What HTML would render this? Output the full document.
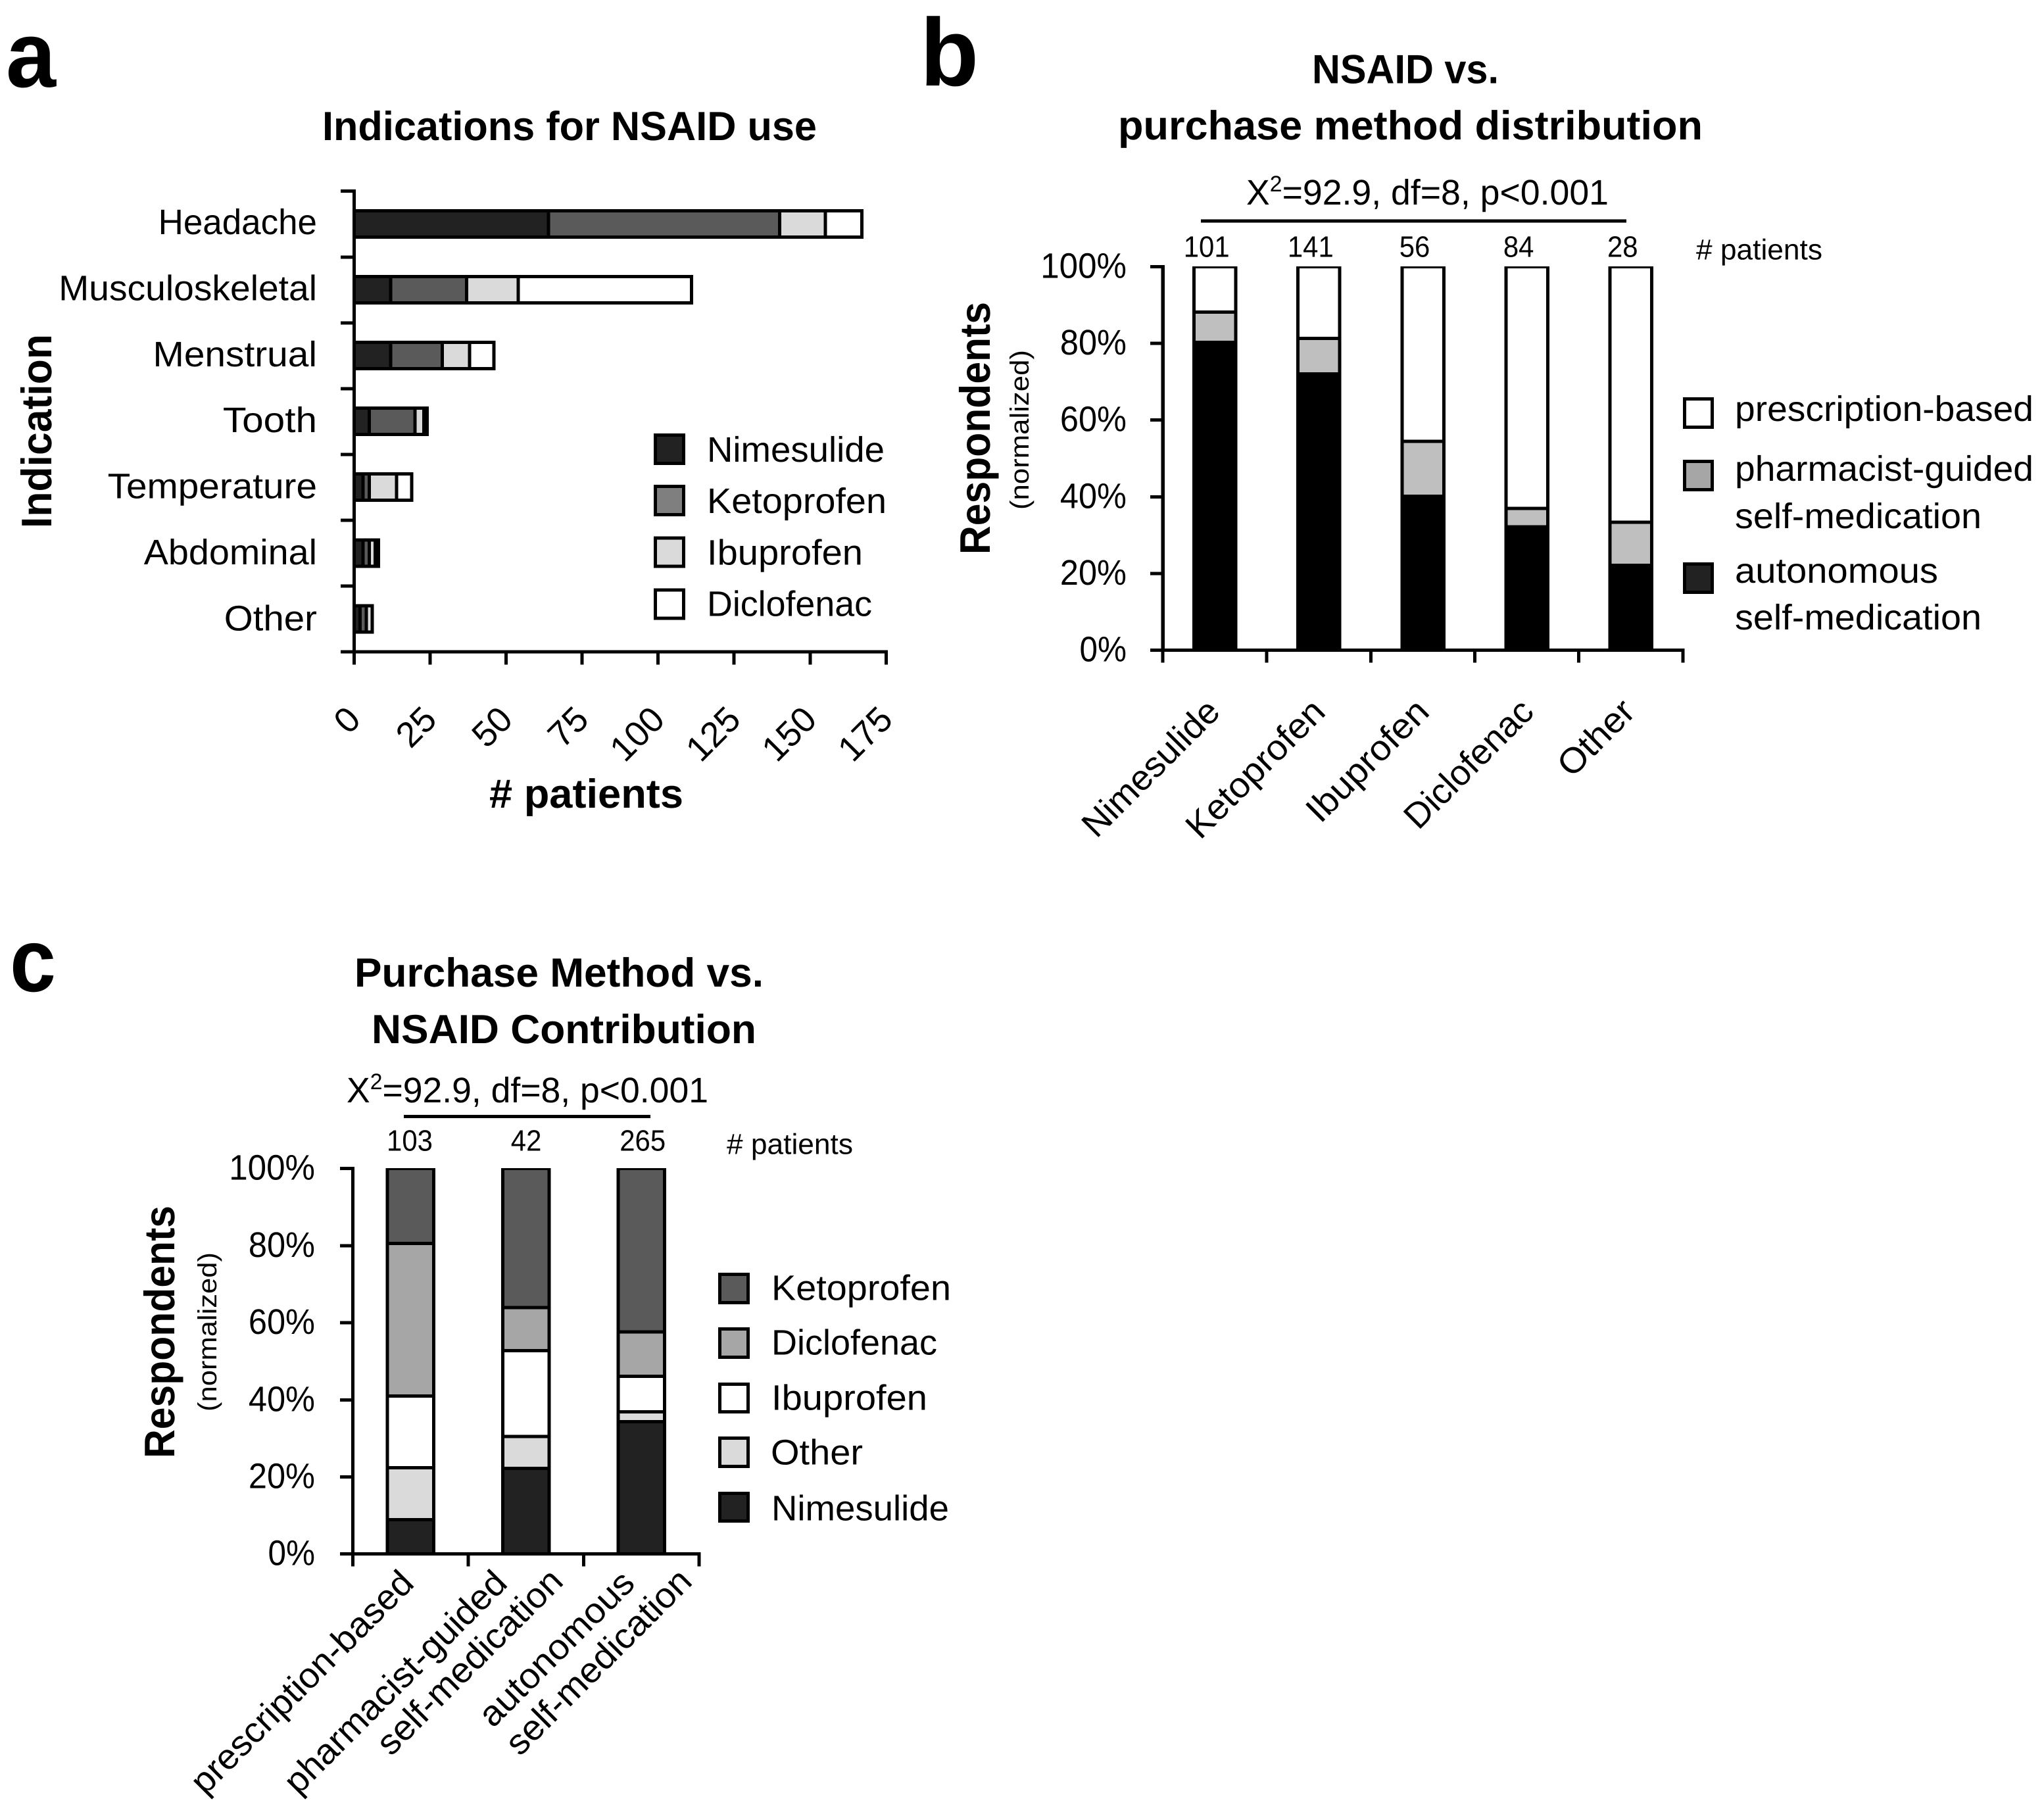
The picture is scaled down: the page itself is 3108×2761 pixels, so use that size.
<!DOCTYPE html>
<html lang="en">
<head>
<meta charset="utf-8">
<title>NSAID use charts</title>
<style>
  html, body { margin: 0; padding: 0; background: #fff; }
  svg { display: block; }
  text { font-family: "Liberation Sans", sans-serif; fill: #000; text-rendering: geometricPrecision; }
  .bold { font-weight: bold; }
  rect, line { shape-rendering: crispEdges; }
</style>
</head>
<body>
<svg id="figure" xmlns="http://www.w3.org/2000/svg" width="3108" height="2761" viewBox="0 0 3108 2761">
  <defs>
    <clipPath id="clip-b"><rect x="1700" y="405" width="900" height="600"/></clipPath>
    <clipPath id="clip-c"><rect x="500" y="1776" width="600" height="600"/></clipPath>
  </defs>
  <rect x="0" y="0" width="3108" height="2761" fill="#fff"/>

  <!-- Panel a -->
  <g id="panel-a">
    <text class="bold" x="9" y="132" font-size="142" textLength="76" lengthAdjust="spacingAndGlyphs">a</text>
    <text class="bold" x="490" y="213" font-size="62" textLength="752" lengthAdjust="spacingAndGlyphs">Indications for NSAID use</text>
    <text class="bold" transform="translate(78,803) rotate(-90)" font-size="65" textLength="295" lengthAdjust="spacingAndGlyphs">Indication</text>
    <text class="bold" x="744" y="1228" font-size="62" textLength="295" lengthAdjust="spacingAndGlyphs"># patients</text>
    <g id="marks-a"></g>
    <g>
      <rect x="996.5" y="661.5" width="43" height="43" fill="#222" stroke="#000" stroke-width="5"/>
      <text x="1075" y="702" font-size="54" textLength="270" lengthAdjust="spacingAndGlyphs">Nimesulide</text>
      <rect x="996.5" y="739.5" width="43" height="43" fill="#7f7f7f" stroke="#000" stroke-width="5"/>
      <text x="1075" y="780" font-size="54" textLength="273" lengthAdjust="spacingAndGlyphs">Ketoprofen</text>
      <rect x="996.5" y="818" width="43" height="43" fill="#dadada" stroke="#000" stroke-width="5"/>
      <text x="1075" y="858.5" font-size="54" textLength="237" lengthAdjust="spacingAndGlyphs">Ibuprofen</text>
      <rect x="996.5" y="897" width="43" height="43" fill="#fff" stroke="#000" stroke-width="5"/>
      <text x="1075" y="936.5" font-size="54" textLength="251" lengthAdjust="spacingAndGlyphs">Diclofenac</text>
    </g>
  </g>

  <!-- Panel b -->
  <g id="panel-b">
    <text class="bold" x="1399" y="130" font-size="146">b</text>
    <text class="bold" x="1995" y="126.5" font-size="62" textLength="284" lengthAdjust="spacingAndGlyphs">NSAID vs.</text>
    <text class="bold" x="1700" y="212" font-size="62" textLength="889" lengthAdjust="spacingAndGlyphs">purchase method distribution</text>
    <text x="1895" y="311" font-size="54" textLength="551" lengthAdjust="spacingAndGlyphs">X<tspan dy="-20" font-size="34">2</tspan><tspan dy="20">=92.9, df=8, p&lt;0.001</tspan></text>
    <line x1="1826" y1="336" x2="2473" y2="336" stroke="#000" stroke-width="5"/>
    <text x="2579" y="394.5" font-size="44" textLength="192" lengthAdjust="spacingAndGlyphs"># patients</text>
    <text class="bold" transform="translate(1505,843) rotate(-90)" font-size="65" textLength="384" lengthAdjust="spacingAndGlyphs">Respondents</text>
    <text transform="translate(1564,775) rotate(-90)" font-size="40" textLength="243" lengthAdjust="spacingAndGlyphs">(normalized)</text>
    <g id="marks-b"></g>
    <text transform="translate(1858,1085) rotate(-45)" text-anchor="end" font-size="54" textLength="270" lengthAdjust="spacingAndGlyphs">Nimesulide</text>
    <text transform="translate(2018,1085) rotate(-45)" text-anchor="end" font-size="54" textLength="273" lengthAdjust="spacingAndGlyphs">Ketoprofen</text>
    <text transform="translate(2176,1085) rotate(-45)" text-anchor="end" font-size="54" textLength="238" lengthAdjust="spacingAndGlyphs">Ibuprofen</text>
    <text transform="translate(2335,1085) rotate(-45)" text-anchor="end" font-size="54" textLength="252" lengthAdjust="spacingAndGlyphs">Diclofenac</text>
    <text transform="translate(2489,1085) rotate(-45)" text-anchor="end" font-size="54" textLength="140" lengthAdjust="spacingAndGlyphs">Other</text>
    <g>
      <rect x="2561.5" y="606.5" width="42" height="43" fill="#fff" stroke="#000" stroke-width="5"/>
      <text x="2638" y="640" font-size="54" textLength="454" lengthAdjust="spacingAndGlyphs">prescription-based</text>
      <rect x="2561.5" y="701.5" width="42" height="43" fill="#a6a6a6" stroke="#000" stroke-width="5"/>
      <text x="2638" y="731" font-size="54" textLength="454" lengthAdjust="spacingAndGlyphs">pharmacist-guided</text>
      <text x="2638" y="803" font-size="54" textLength="375" lengthAdjust="spacingAndGlyphs">self-medication</text>
      <rect x="2561.5" y="857.5" width="42" height="43" fill="#222" stroke="#000" stroke-width="5"/>
      <text x="2638" y="886" font-size="54" textLength="309" lengthAdjust="spacingAndGlyphs">autonomous</text>
      <text x="2638" y="957" font-size="54" textLength="375" lengthAdjust="spacingAndGlyphs">self-medication</text>
    </g>
  </g>

  <!-- Panel c -->
  <g id="panel-c">
    <text class="bold" x="15" y="1507" font-size="136" textLength="70" lengthAdjust="spacingAndGlyphs">c</text>
    <text class="bold" x="539" y="1500" font-size="62" textLength="622" lengthAdjust="spacingAndGlyphs">Purchase Method vs.</text>
    <text class="bold" x="565" y="1586" font-size="62" textLength="585" lengthAdjust="spacingAndGlyphs">NSAID Contribution</text>
    <text x="527" y="1676" font-size="54" textLength="550" lengthAdjust="spacingAndGlyphs">X<tspan dy="-20" font-size="34">2</tspan><tspan dy="20">=92.9, df=8, p&lt;0.001</tspan></text>
    <line x1="614" y1="1697.3" x2="989" y2="1697.3" stroke="#000" stroke-width="5"/>
    <text x="1105" y="1754.5" font-size="44" textLength="192" lengthAdjust="spacingAndGlyphs"># patients</text>
    <text class="bold" transform="translate(265,2217) rotate(-90)" font-size="65" textLength="384" lengthAdjust="spacingAndGlyphs">Respondents</text>
    <text transform="translate(329,2146) rotate(-90)" font-size="40" textLength="242" lengthAdjust="spacingAndGlyphs">(normalized)</text>
    <g id="marks-c"></g>
    <text transform="translate(632,2410) rotate(-45)" text-anchor="end" font-size="54" textLength="453" lengthAdjust="spacingAndGlyphs">prescription-based</text>
    <text transform="translate(774,2410) rotate(-45)" text-anchor="end" font-size="54" textLength="453" lengthAdjust="spacingAndGlyphs">pharmacist-guided</text>
    <text transform="translate(859,2407) rotate(-45)" text-anchor="end" font-size="54" textLength="374" lengthAdjust="spacingAndGlyphs">self-medication</text>
    <text transform="translate(968,2410) rotate(-45)" text-anchor="end" font-size="54" textLength="309" lengthAdjust="spacingAndGlyphs">autonomous</text>
    <text transform="translate(1055,2407) rotate(-45)" text-anchor="end" font-size="54" textLength="374" lengthAdjust="spacingAndGlyphs">self-medication</text>
    <g>
      <rect x="1094.5" y="1937.5" width="43" height="43" fill="#5a5a5a" stroke="#000" stroke-width="5"/>
      <text x="1173" y="1976.7" font-size="54" textLength="273" lengthAdjust="spacingAndGlyphs">Ketoprofen</text>
      <rect x="1094.5" y="2020.5" width="43" height="43" fill="#a6a6a6" stroke="#000" stroke-width="5"/>
      <text x="1173" y="2059.3" font-size="54" textLength="252" lengthAdjust="spacingAndGlyphs">Diclofenac</text>
      <rect x="1094.5" y="2104.5" width="43" height="42" fill="#fff" stroke="#000" stroke-width="5"/>
      <text x="1173" y="2143.3" font-size="54" textLength="237" lengthAdjust="spacingAndGlyphs">Ibuprofen</text>
      <rect x="1094.5" y="2186.5" width="43" height="43" fill="#dadada" stroke="#000" stroke-width="5"/>
      <text x="1172" y="2226.7" font-size="54" textLength="140" lengthAdjust="spacingAndGlyphs">Other</text>
      <rect x="1094.5" y="2270.5" width="43" height="42" fill="#222" stroke="#000" stroke-width="5"/>
      <text x="1173" y="2311.7" font-size="54" textLength="270" lengthAdjust="spacingAndGlyphs">Nimesulide</text>
    </g>
  </g>
</svg>

<script>
/* ---------- Chart a data ---------- */
const aCategories = ['Headache', 'Musculoskeletal', 'Menstrual', 'Tooth', 'Temperature', 'Abdominal', 'Other'];
const aNimesulide = [64, 12, 12, 5, 3, 3, 2];
const aKetoprofen = [76, 25, 17, 15, 2, 2, 2];
const aIbuprofen = [15, 17, 9, 3, 9, 2, 2];
const aDiclofenac = [12, 57, 8, 1, 5, 1, 0];
const aTicks = [0, 25, 50, 75, 100, 125, 150, 175];

/* ---------- Chart b data ---------- */
const bCategories = ['Nimesulide', 'Ketoprofen', 'Ibuprofen', 'Diclofenac', 'Other'];
const bCounts = [101, 141, 56, 84, 28];
const bAutonomous = [80.3, 72.0, 40.1, 32.2, 22.1];
const bPharmacist = [7.9, 9.3, 14.4, 4.8, 11.3];
const bPrescription = [11.8, 18.7, 45.5, 63.0, 66.6];
const bTicks = [0, 20, 40, 60, 80, 100];

/* ---------- Chart c data ---------- */
const cCategories = ['prescription-based', 'pharmacist-guided self-medication', 'autonomous self-medication'];
const cCounts = [103, 42, 265];
const cNimesulide = [8.9, 22.2, 34.3];
const cOther = [13.5, 8.3, 2.6];
const cIbuprofen = [18.6, 22.3, 9.2];
const cDiclofenac = [39.6, 11.1, 11.5];
const cKetoprofen = [19.4, 36.1, 42.4];
const cTicks = [0, 20, 40, 60, 80, 100];

/* ---------- helpers ---------- */
const NS = 'http://www.w3.org/2000/svg';
const COLORS = { nim: '#222222', keto: '#5a5a5a', ibu: '#dadada', white: '#ffffff', pharm: '#bfbfbf', black: '#000000', diclo: '#a6a6a6' };
const WIDTHS = { a:.479,b:.525,c:.423,d:.525,e:.498,f:.305,g:.471,h:.525,i:.229,j:.239,k:.455,l:.229,m:.799,n:.525,o:.527,p:.525,q:.525,r:.349,s:.391,t:.335,u:.525,v:.452,w:.715,x:.433,y:.453,z:.395,
  A:.579,B:.544,C:.533,D:.615,E:.488,F:.459,G:.631,H:.623,I:.252,J:.319,K:.520,L:.420,M:.855,N:.646,O:.662,P:.517,Q:.673,R:.543,S:.459,T:.487,U:.642,V:.567,W:.890,X:.519,Y:.487,Z:.468,'%':.715,' ':.226,'-':.306 };
function fittedLength(str, em) {
  let total = 0;
  for (const ch of String(str)) total += (WIDTHS[ch] !== undefined ? WIDTHS[ch] : .507);
  return total * em;
}
function svgEl(tag, attrs, parent) {
  const node = document.createElementNS(NS, tag);
  for (const k in attrs) node.setAttribute(k, attrs[k]);
  parent.appendChild(node);
  return node;
}
function slug(str) { return String(str).toLowerCase().replace(/[^a-z0-9]+/g, '-'); }

/* ---------- Chart a ---------- */
const aX = v => 538.3 + v * 4.623;
const aBandTop = i => 290.7 + i * 100.05;
const aBarY = i => 340.5 + i * 100.05;
const marksA = document.getElementById('marks-a');
const aSeries = [
  { name: 'nimesulide', values: aNimesulide, fill: COLORS.nim },
  { name: 'ketoprofen', values: aKetoprofen, fill: COLORS.keto },
  { name: 'ibuprofen', values: aIbuprofen, fill: COLORS.ibu },
  { name: 'diclofenac', values: aDiclofenac, fill: COLORS.white }
];

aCategories.forEach((cat, i) => {
  let base = 0;
  aSeries.forEach(s => {
    const v = s.values[i];
    if (v > 0) {
      const bar = svgEl('rect', { x: aX(base), y: aBarY(i) - 20, width: aX(base + v) - aX(base), height: 40, fill: s.fill, stroke: '#000', 'stroke-width': 5 }, marksA);
      
      
    }
    base += v;
  });
  const label = svgEl('text', { x: 482, y: 356 + i * 100.4, 'font-size': 54, 'text-anchor': 'end', textLength: fittedLength(cat, 59.6), lengthAdjust: 'spacingAndGlyphs' }, marksA);
  label.textContent = cat;
  
  
});

for (let i = 0; i <= aCategories.length; i++) {
  const tick = svgEl('line', { x1: 518, x2: 538.3, y1: aBandTop(i), y2: aBandTop(i), stroke: '#000', 'stroke-width': 5 }, marksA);
  
  
}
const aYAxis = svgEl('line', { x1: aX(0), x2: aX(0), y1: aBandTop(0) - 2.5, y2: aBandTop(aCategories.length) + 2.5, stroke: '#000', 'stroke-width': 5 }, marksA);


const aXAxis = svgEl('line', { x1: 518, x2: aX(aTicks[aTicks.length - 1]) + 2.5, y1: 991.2, y2: 991.2, stroke: '#000', 'stroke-width': 5 }, marksA);


aTicks.forEach(t => {
  const tick = svgEl('line', { x1: aX(t), x2: aX(t), y1: 991.2, y2: 1010.7, stroke: '#000', 'stroke-width': 5 }, marksA);
  
  
  const label = svgEl('text', { transform: 'translate(' + (aX(t) + 13) + ',1097) rotate(-45)', 'font-size': 54, 'text-anchor': 'end' }, marksA);
  label.textContent = t;
  
  
});

/* ---------- Shared vertical stacked chart ---------- */
function drawStackedColumns(cfg) {
  const parent = cfg.parent;
  const y = cfg.y;
  const clipGroup = svgEl('g', { 'clip-path': 'url(#' + cfg.clip + ')' }, parent);
  
  
  cfg.categories.forEach((cat, i) => {
    let base = 0;
    const spans = cfg.series.map(s => { const from = base; base += s.values[i]; return { s, from, to: base }; });
    spans.slice().reverse().forEach(sp => {
      const bar = svgEl('rect', { x: cfg.cx(i) - cfg.barWidth / 2, y: y(sp.to), width: cfg.barWidth, height: y(sp.from) - y(sp.to), fill: sp.s.fill, stroke: '#000', 'stroke-width': 5 }, clipGroup);
      
      
    });
    const count = svgEl('text', { x: cfg.countX(i), y: cfg.countY, 'font-size': 45, 'text-anchor': 'middle', textLength: String(cfg.counts[i]).length * 23.3, lengthAdjust: 'spacingAndGlyphs' }, parent);
    count.textContent = cfg.counts[i];
    
    
  });
  const yAxis = svgEl('line', { x1: cfg.axisX, x2: cfg.axisX, y1: y(100) - 2.5, y2: y(0) + 2.5, stroke: '#000', 'stroke-width': cfg.axisWidth }, parent);
  
  
  cfg.ticks.forEach(t => {
    const tick = svgEl('line', { x1: cfg.tickLeft, x2: cfg.axisX, y1: y(t), y2: y(t), stroke: '#000', 'stroke-width': 5 }, parent);
    
    
    const str = t + '%';
    const label = svgEl('text', { x: cfg.labelRight, y: y(t) + 17, 'font-size': 54, 'text-anchor': 'end', textLength: fittedLength(str, 58.5), lengthAdjust: 'spacingAndGlyphs' }, parent);
    label.textContent = str;
    
    
  });
  const xAxis = svgEl('line', { x1: cfg.tickLeft, x2: cfg.axisX + cfg.tickStep * cfg.categories.length + 2.5, y1: y(0), y2: y(0), stroke: '#000', 'stroke-width': 5 }, parent);
  
  
  for (let i = 0; i <= cfg.categories.length; i++) {
    const px = cfg.axisX + cfg.tickStep * i;
    const tick = svgEl('line', { x1: px, x2: px, y1: y(0), y2: y(0) + 19, stroke: '#000', 'stroke-width': 5 }, parent);
    
    
  }
}

/* ---------- Chart b ---------- */
const bCx = i => 1847.2 + i * 158.15;
drawStackedColumns({
  parent: document.getElementById('marks-b'),
  prefix: 'chart-b',
  clip: 'clip-b',
  categories: bCategories,
  counts: bCounts,
  ticks: bTicks,
  series: [
    { name: 'autonomous', values: bAutonomous, fill: COLORS.black },
    { name: 'pharmacist', values: bPharmacist, fill: COLORS.pharm },
    { name: 'prescription', values: bPrescription, fill: COLORS.white }
  ],
  y: v => 988.5 - v * 5.83,
  cx: bCx,
  countX: i => bCx(i) - 12.5,
  countY: 390.5,
  barWidth: 63.5,
  axisX: 1768,
  axisWidth: 5.5,
  tickLeft: 1749,
  tickStep: 158.15,
  labelRight: 1713
});

/* ---------- Chart c ---------- */
const cCx = i => 624 + i * 175.6;
drawStackedColumns({
  parent: document.getElementById('marks-c'),
  prefix: 'chart-c',
  clip: 'clip-c',
  categories: cCategories,
  counts: cCounts,
  ticks: cTicks,
  series: [
    { name: 'nimesulide', values: cNimesulide, fill: COLORS.nim },
    { name: 'other', values: cOther, fill: COLORS.ibu },
    { name: 'ibuprofen', values: cIbuprofen, fill: COLORS.white },
    { name: 'diclofenac', values: cDiclofenac, fill: COLORS.diclo },
    { name: 'ketoprofen', values: cKetoprofen, fill: COLORS.keto }
  ],
  y: v => 2362.7 - v * 5.86,
  cx: cCx,
  countX: i => cCx(i) - 1 + i * 1.5,
  countY: 1749.3,
  barWidth: 70.5,
  axisX: 536.4,
  axisWidth: 5,
  tickLeft: 517,
  tickStep: 175.5,
  labelRight: 479
});
</script>
</body>
</html>
